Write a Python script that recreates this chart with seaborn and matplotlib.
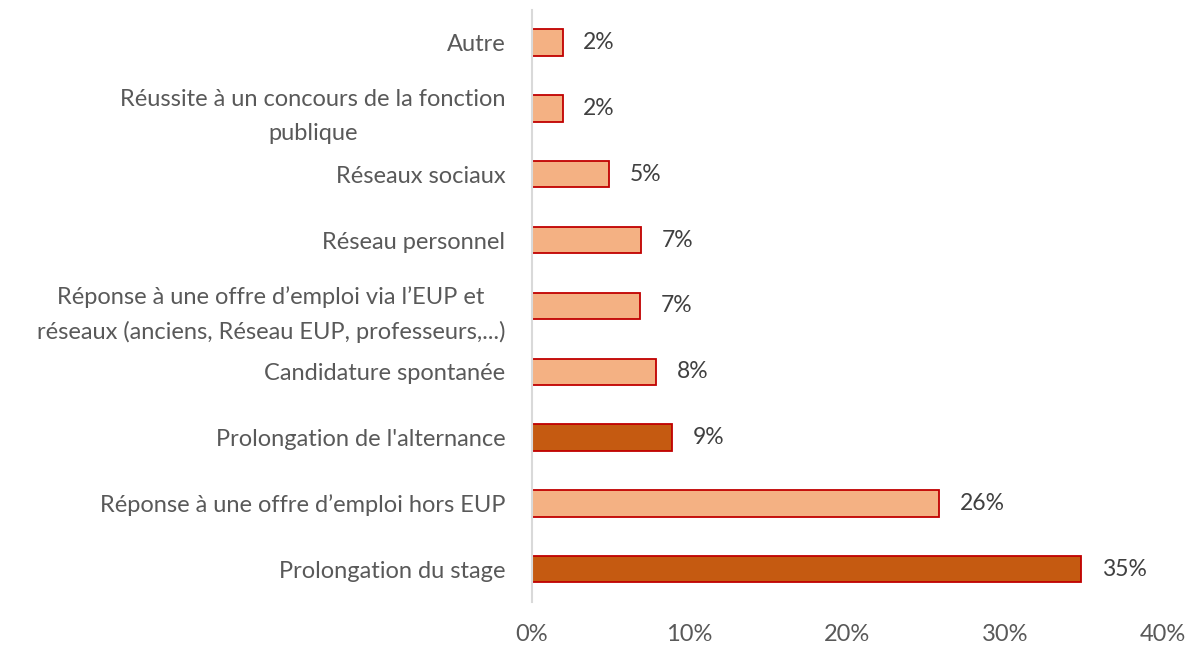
import pandas as pd
import seaborn as sns
import matplotlib.pyplot as plt

categories = [
    "Autre",
    "Réussite à un concours de la fonction\npublique",
    "Réseaux sociaux",
    "Réseau personnel",
    "Réponse à une offre d\u2019emploi via l\u2019EUP et\nréseaux (anciens, Réseau EUP, professeurs,...)",
    "Candidature spontanée",
    "Prolongation de l'alternance",
    "Réponse à une offre d\u2019emploi hors EUP",
    "Prolongation du stage",
]
values = [1.95, 1.95, 4.9, 6.9, 6.85, 7.9, 8.9, 25.8, 34.8]
labels = ["2%", "2%", "5%", "7%", "7%", "8%", "9%", "26%", "35%"]
groups = ["autre", "autre", "autre", "autre", "autre", "autre", "prolongation", "autre", "prolongation"]

df = pd.DataFrame({"Categorie": categories, "Part": values, "Groupe": groups})

sns.set_style("white")
plt.rcParams['font.family'] = ['Lato', 'DejaVu Sans']

fig = plt.figure(figsize=(11.95, 6.46), dpi=100)
ax = fig.add_axes([0.445, 0.068, 0.528, 0.917])

palette = {"autre": "#F4B183", "prolongation": "#C55A11"}
sns.barplot(data=df, x="Part", y="Categorie", hue="Groupe", palette=palette,
            dodge=False, legend=False, width=0.4, edgecolor="#C00000",
            linewidth=1.3, saturation=1, ax=ax)

# labels de données
for cont in ax.containers:
    cont_labels = []
    for bar in cont:
        idx = int(round(bar.get_y() + bar.get_height() / 2))
        cont_labels.append(labels[idx] if bar.get_width() > 0 else "")
    ax.bar_label(cont, labels=cont_labels, padding=15, fontsize=16.5, color="#404040")

ax.set_xlim(0, 40)
ax.set_ylim(8.5, -0.5)
ax.set_xticks([0, 10, 20, 30, 40])
ax.set_xticklabels(["0%", "10%", "20%", "30%", "40%"])
ax.set_xlabel("")
ax.set_ylabel("")
ax.tick_params(axis='both', length=0, labelsize=17, labelcolor="#595959")
ax.tick_params(axis='y', pad=19)
ax.tick_params(axis='x', pad=16)
for lab in ax.get_yticklabels():
    lab.set_multialignment('center')
    lab.set_linespacing(1.75)

for side in ["top", "right", "bottom"]:
    ax.spines[side].set_visible(False)
ax.spines["left"].set_color("#D9D9D9")
ax.spines["left"].set_linewidth(1.5)

fig.savefig("out.png", dpi=100)
